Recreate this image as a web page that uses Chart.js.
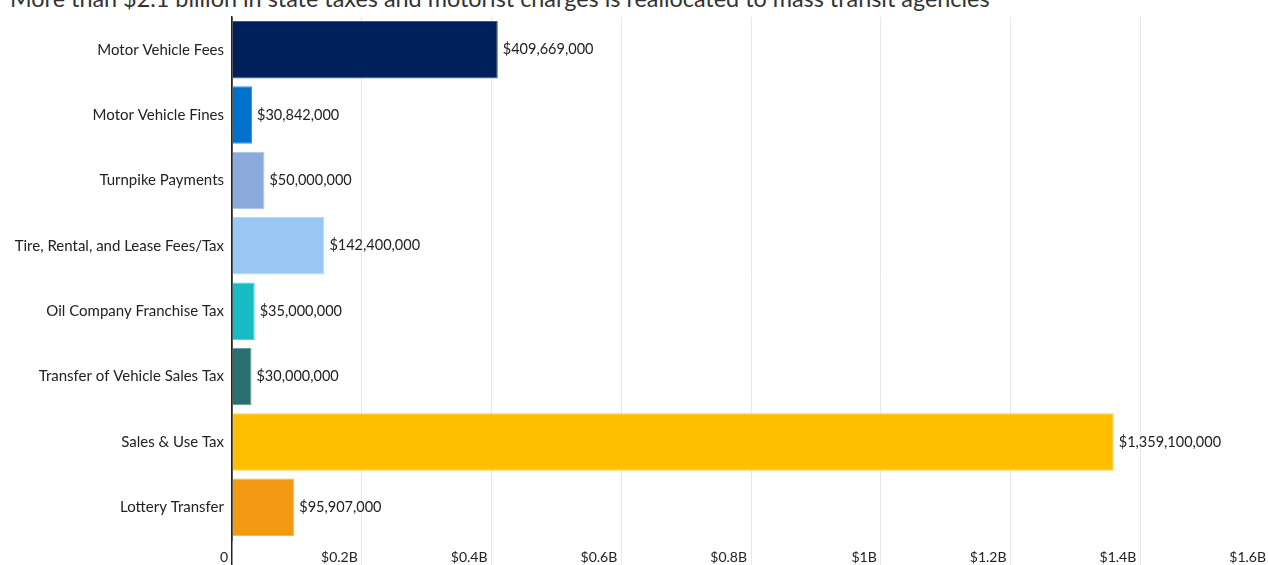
<!DOCTYPE html>
<html>
<head>
<meta charset="utf-8">
<script src="https://cdn.jsdelivr.net/npm/chart.js@4"></script>
<style>
  html, body { margin: 0; padding: 0; background: #fff; overflow: hidden; width: 1268px; height: 565px; }
  #title { position: absolute; left: 10px; top: -16px; font: 23.4px Lato, sans-serif; color: #333; white-space: nowrap; }
  #wrap { position: absolute; left: 0; top: 0; width: 1290px; height: 565px; }
</style>
</head>
<body>
<div id="title">More than $2.1 billion in state taxes and motorist charges is reallocated to mass transit agencies</div>
<div id="wrap"><canvas id="fundChart"></canvas></div>
<script>
const categories = [
    'Motor Vehicle Fees', 'Motor Vehicle Fines', 'Turnpike Payments',
    'Tire, Rental, and Lease Fees/Tax', 'Oil Company Franchise Tax',
    'Transfer of Vehicle Sales Tax', 'Sales & Use Tax', 'Lottery Transfer'
];
const amounts = [409669000, 30842000, 50000000, 142400000, 35000000, 30000000, 1359100000, 95907000];
const barColors = ['#00205B', '#0072CE', '#8AABDB', '#99C8F5', '#17BCC5', '#2A7070', '#FFBE00', '#F39A12'];
const edgeColors = ['#3D5A8C', '#3D95DE', '#A9C2E6', '#B6D8F8', '#5CD0D6', '#5F9494', '#FFD24D', '#F7B651'];

const ctx = document.getElementById('fundChart').getContext('2d');

const chart = new Chart(ctx, {
    type: 'bar',
    data: {
        labels: categories,
        datasets: [{
            data: amounts,
            backgroundColor: barColors,
            borderColor: edgeColors,
            borderWidth: 1,
            categoryPercentage: 1,
            barPercentage: 0.88
        }]
    },
    options: {
        indexAxis: 'y',
        responsive: true,
        maintainAspectRatio: false,
        animation: false,
        layout: { padding: { top: 15, right: 20, left: 0, bottom: 0 } },
        plugins: {
            legend: { display: false },
            tooltip: { enabled: false }
        },
        scales: {
            x: {
                min: 0,
                max: 1.6e9,
                afterFit(scale) { scale.height = 25; },
                ticks: {
                    stepSize: 2e8,
                    align: 'end',
                    labelOffset: -4,
                    padding: -17,
                    color: '#222',
                    font: { family: 'Lato', size: 14 },
                    callback: v => v === 0 ? '0' : '$' + (v / 1e9) + 'B'
                },
                grid: {
                    color: c => c.tick && c.tick.value === 0 ? '#222' : '#e8e8e8',
                    lineWidth: c => c.tick && c.tick.value === 0 ? 1.5 : 1,
                    tickLength: 26
                },
                border: { display: false }
            },
            y: {
                afterFit(scale) { scale.width = 232; },
                ticks: {
                    padding: 8,
                    color: '#222',
                    font: { family: 'Lato', size: 15 }
                },
                grid: { display: false, drawTicks: false },
                border: { display: true, color: '#222', width: 1.5 }
            }
        }
    },
    plugins: [{
        id: 'valueLabels',
        afterDatasetsDraw(chart) {
            const {ctx} = chart;
            const meta = chart.getDatasetMeta(0);
            ctx.save();
            ctx.font = '14.5px Lato';
            ctx.fillStyle = '#222';
            ctx.textBaseline = 'middle';
            ctx.textAlign = 'left';
            meta.data.forEach((bar, i) => {
                ctx.fillText('$' + amounts[i].toLocaleString('en-US'), bar.x + 5, bar.y);
            });
            ctx.restore();
        }
    }]
});
</script>
</body>
</html>
